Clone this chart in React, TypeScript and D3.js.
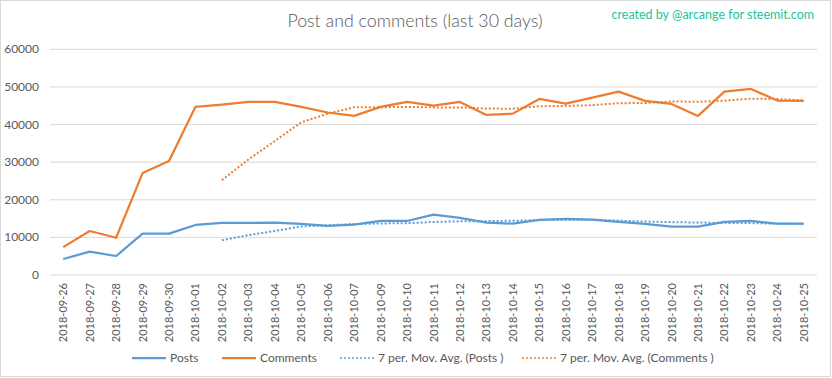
import React from "react";
import * as d3 from "d3";

const dates = [
  "2018-09-26","2018-09-27","2018-09-28","2018-09-29","2018-09-30",
  "2018-10-01","2018-10-02","2018-10-03","2018-10-04","2018-10-05",
  "2018-10-06","2018-10-07","2018-10-09","2018-10-10","2018-10-11",
  "2018-10-12","2018-10-13","2018-10-14","2018-10-15","2018-10-16",
  "2018-10-17","2018-10-18","2018-10-19","2018-10-20","2018-10-21",
  "2018-10-22","2018-10-23","2018-10-24","2018-10-25",
];
const posts = [
  4260, 6200, 5050, 11000, 11000, 13300, 13830, 13830, 13920, 13560,
  13030, 13390, 14360, 14360, 16050, 15160, 13920, 13650, 14630, 14890,
  14720, 14100, 13560, 12850, 12850, 14100, 14360, 13650, 13650,
];
const comments = [
  7400, 11700, 9900, 27100, 30300, 44700, 45300, 46000, 46000, 44700,
  43200, 42300, 44700, 46000, 45000, 46000, 42550, 42900, 46800, 45560,
  47160, 48760, 46280, 45480, 42290, 48760, 49470, 46370, 46280,
];
const yTicks = [0, 10000, 20000, 30000, 40000, 50000, 60000];
const PERIOD = 7;

const BLUE = "#5B9BD5";
const ORANGE = "#ED7D31";
const GRID = "#D9D9D9";
const TEXT = "#595959";
const FONT = "Lato, 'Open Sans', sans-serif";

function movingAvg(vals: number[]) {
  return vals.map((_, i) =>
    i < PERIOD - 1 ? null : (d3.mean(vals.slice(i - PERIOD + 1, i + 1)) as number)
  );
}

export default function App() {
  const W = 832, H = 378;
  const left = 50, right = 817, top = 49.3, bottom = 275;
  const x = d3.scaleBand<string>().domain(dates).range([left, right]);
  const cx = (d: string) => (x(d) as number) + x.bandwidth() / 2;
  const y = d3.scaleLinear().domain([0, 60000]).range([bottom, top]);

  const line = d3
    .line<number | null>()
    .defined((d) => d !== null)
    .x((_, i) => cx(dates[i]))
    .y((d) => y(d as number));

  const maPosts = movingAvg(posts);
  const maComments = movingAvg(comments);

  const legend = [
    { label: "Posts", color: BLUE, dash: null, x: 132 },
    { label: "Comments", color: ORANGE, dash: null, x: 222 },
    { label: "7 per. Mov. Avg. (Posts )", color: BLUE, dash: "2,2", x: 340 },
    { label: "7 per. Mov. Avg. (Comments )", color: ORANGE, dash: "2,2", x: 522 },
  ];

  return (
    <svg
      width={W}
      height={H}
      style={{ position: "absolute", left: 0, top: 0, background: "#fff" }}
      fontFamily={FONT}
    >
      <rect x={0.5} y={0.5} width={830} height={376} fill="#fff" stroke={GRID} />
      <text x={415} y={27} textAnchor="middle" fontSize={17.8} fontWeight={300} fill={TEXT}>
        Post and comments (last 30 days)
      </text>
      <text x={814} y={19} textAnchor="end" fontSize={12.5} fill="#1DC49A">
        created by @arcange for steemit.com
      </text>
      {yTicks.map((t) => (
        <g key={t}>
          <line x1={left} x2={right} y1={y(t)} y2={y(t)} stroke={GRID} strokeWidth={1} />
          <text x={39} y={y(t) + 4} textAnchor="end" fontSize={12} fill={TEXT}>
            {t}
          </text>
        </g>
      ))}
      {dates.map((d) => (
        <text
          key={d}
          transform={`translate(${cx(d) + 4},${283}) rotate(-90)`}
          textAnchor="end"
          fontSize={11}
          fill={TEXT}
        >
          {d}
        </text>
      ))}
      <path d={line(maPosts) as string} fill="none" stroke={BLUE} strokeWidth={2} strokeDasharray="2,2" />
      <path d={line(maComments) as string} fill="none" stroke={ORANGE} strokeWidth={2} strokeDasharray="2,2" />
      <path d={line(posts) as string} fill="none" stroke={BLUE} strokeWidth={2.25} strokeLinejoin="round" />
      <path d={line(comments) as string} fill="none" stroke={ORANGE} strokeWidth={2.25} strokeLinejoin="round" />
      {legend.map((l) => (
        <g key={l.label}>
          <line
            x1={l.x}
            x2={l.x + 34}
            y1={358}
            y2={358}
            stroke={l.color}
            strokeWidth={l.dash ? 1.5 : 2.25}
            strokeDasharray={l.dash || undefined}
          />
          <text x={l.x + 38} y={362} fontSize={12} fill={TEXT}>
            {l.label}
          </text>
        </g>
      ))}
    </svg>
  );
}
